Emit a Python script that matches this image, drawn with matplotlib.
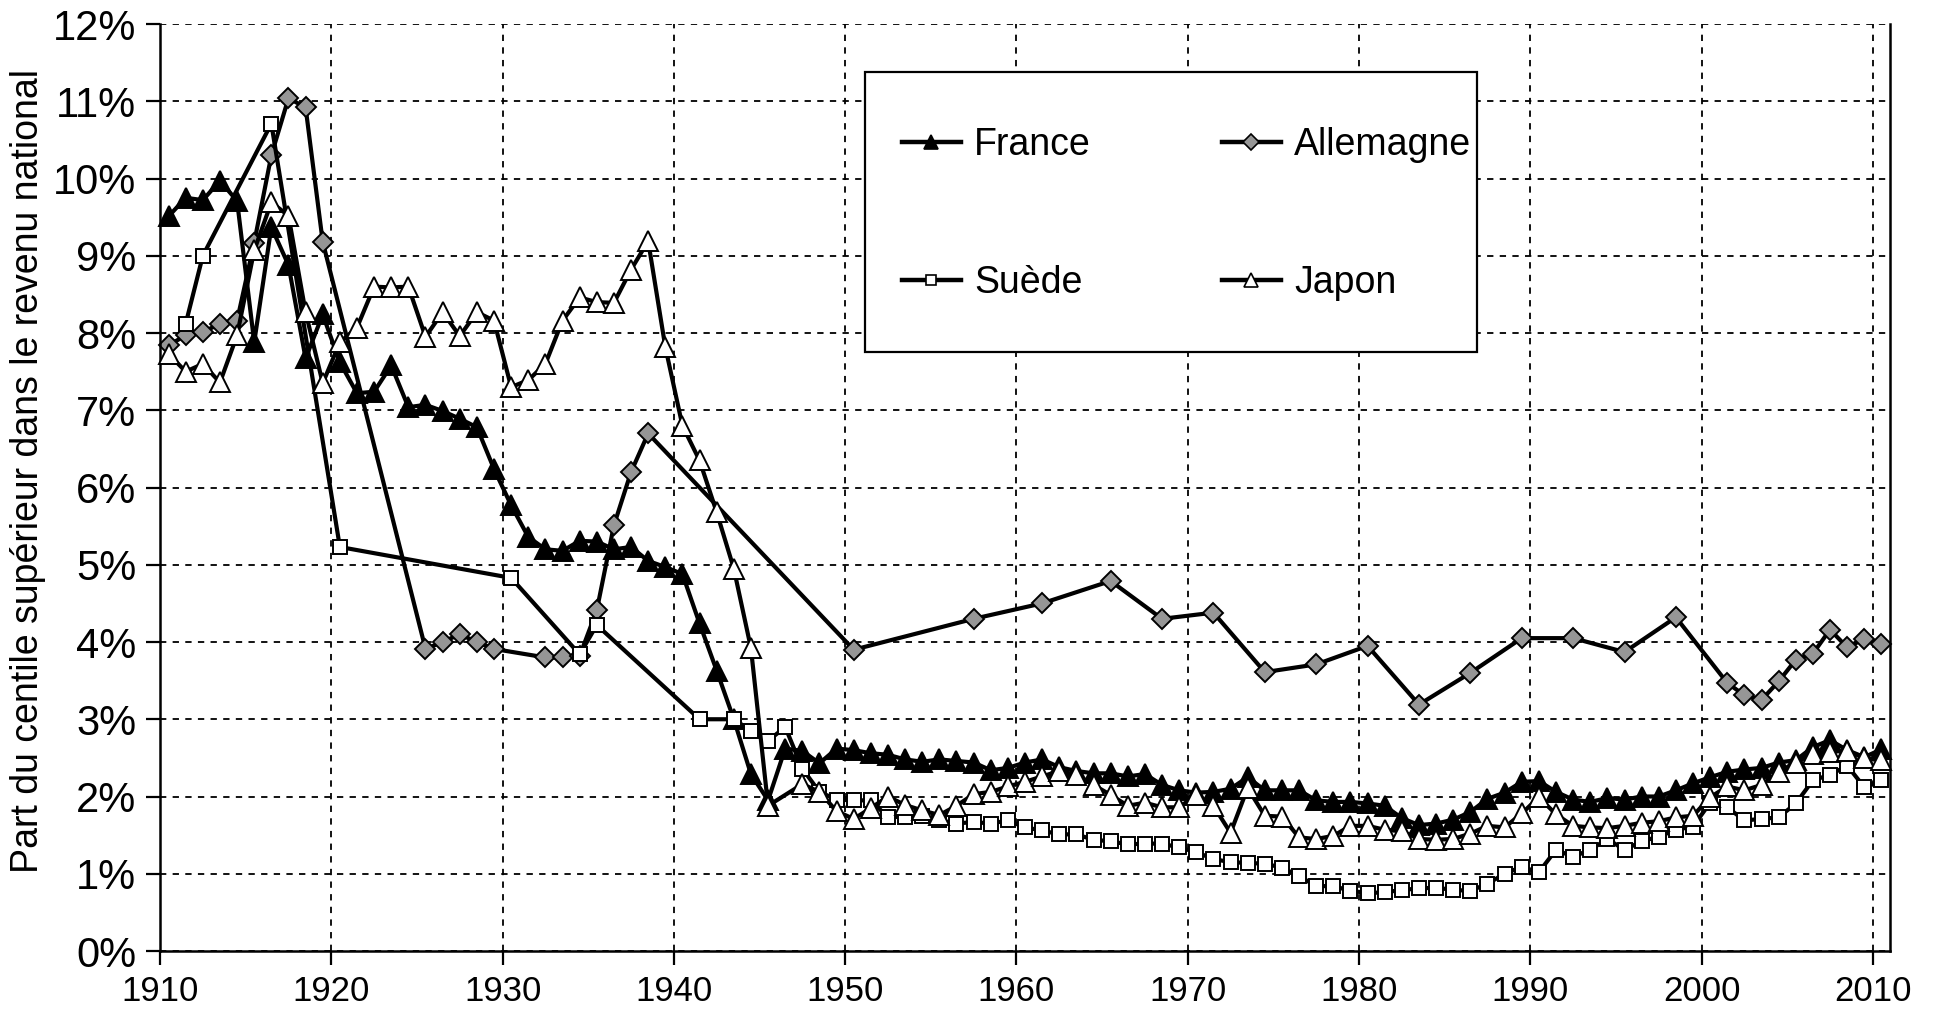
import numpy as np
import matplotlib
matplotlib.use('Agg')
import matplotlib.pyplot as plt
from matplotlib.patches import Rectangle
from matplotlib.lines import Line2D

# share of top 1% in national income (%)
france_years = list(range(1910, 2011))
france = [9.51, 9.75, 9.72, 9.97, 9.71, 7.88, 9.37, 8.88, 7.67, 8.24,
          7.62, 7.22, 7.24, 7.58, 7.04, 7.07, 6.99, 6.89, 6.78, 6.24,
          5.77, 5.36, 5.20, 5.18, 5.31, 5.30, 5.20, 5.23, 5.05, 4.97,
          4.88, 4.24, 3.63, 3.00, 2.29, 1.95, 2.62, 2.59, 2.43, 2.62,
          2.60, 2.56, 2.54, 2.48, 2.45, 2.48, 2.46, 2.44, 2.34, 2.37,
          2.44, 2.48, 2.38, 2.33, 2.30, 2.30, 2.26, 2.29, 2.15, 2.08,
          2.05, 2.06, 2.10, 2.25, 2.08, 2.08, 2.08, 1.95, 1.93, 1.93,
          1.91, 1.88, 1.72, 1.63, 1.65, 1.70, 1.80, 1.97, 2.05, 2.19,
          2.20, 2.06, 1.96, 1.93, 1.98, 1.96, 2.00, 2.00, 2.08, 2.17,
          2.25, 2.32, 2.35, 2.37, 2.44, 2.47, 2.64, 2.73, 2.60, 2.51,
          2.61]

germany_years = (list(range(1910, 1920)) + list(range(1925, 1930)) + list(range(1932, 1939))
                 + [1950, 1957, 1961, 1965, 1968, 1971, 1974, 1977, 1980, 1983,
                    1986, 1989, 1992, 1995, 1998] + list(range(2001, 2011)))
germany = [7.84, 7.97, 8.01, 8.12, 8.16, 9.17, 10.30, 11.04, 10.92, 9.18,
           3.91, 4.00, 4.10, 4.00, 3.91,
           3.80, 3.80, 3.82, 4.41, 5.51, 6.20, 6.70,
           3.90, 4.30, 4.50, 4.79, 4.30, 4.38, 3.61, 3.71, 3.95, 3.19,
           3.60, 4.05, 4.05, 3.87, 4.32,
           3.47, 3.31, 3.25, 3.49, 3.77, 3.85, 4.16, 3.93, 4.04, 3.98]

sweden_years = [1911, 1912, 1916, 1920, 1930, 1934, 1935, 1941] + list(range(1943, 2011))
sweden = [8.12, 9.00, 10.71, 5.23, 4.83, 3.84, 4.22, 3.00,
          3.00, 2.85, 2.72, 2.90, 2.36, 2.06, 1.96,
          1.95, 1.95, 1.73, 1.74, 1.75, 1.69, 1.65, 1.67, 1.65, 1.69,
          1.60, 1.56, 1.51, 1.51, 1.44, 1.42, 1.38, 1.39, 1.39, 1.34,
          1.28, 1.19, 1.15, 1.14, 1.13, 1.08, 0.97, 0.84, 0.84, 0.78,
          0.75, 0.76, 0.79, 0.81, 0.82, 0.79, 0.78, 0.87, 1.00, 1.09,
          1.02, 1.31, 1.22, 1.31, 1.45, 1.31, 1.42, 1.48, 1.57, 1.61,
          1.92, 1.86, 1.69, 1.71, 1.73, 1.91, 2.21, 2.28, 2.40, 2.12,
          2.21]

japan_years = list(range(1910, 1946)) + list(range(1947, 2011))
japan = [7.73, 7.50, 7.60, 7.36, 7.97, 9.07, 9.69, 9.52, 8.27, 7.35,
         7.88, 8.07, 8.60, 8.59, 8.60, 7.95, 8.27, 7.96, 8.27, 8.16,
         7.30, 7.39, 7.60, 8.16, 8.46, 8.40, 8.39, 8.82, 9.19, 7.82,
         6.80, 6.35, 5.68, 4.95, 3.92, 1.88,
         2.16, 2.06, 1.81,
         1.71, 1.85, 2.00, 1.89, 1.82, 1.76, 1.88, 2.03, 2.06, 2.13,
         2.19, 2.26, 2.33, 2.28, 2.15, 2.02, 1.88, 1.92, 1.86, 1.86,
         2.02, 1.88, 1.53, 2.11, 1.75, 1.74, 1.47, 1.45, 1.49, 1.62,
         1.62, 1.57, 1.55, 1.45, 1.44, 1.45, 1.52, 1.62, 1.60, 1.78,
         1.99, 1.77, 1.62, 1.60, 1.59, 1.62, 1.66, 1.68, 1.73, 1.75,
         1.99, 2.13, 2.08, 2.15, 2.32, 2.44, 2.55, 2.58, 2.59, 2.50,
         2.47]

x_ticks = list(range(1910, 2011, 10))
y_ticks = list(range(0, 13))

FONT = ['Liberation Sans', 'DejaVu Sans']

W, H = 1945, 1022
fig = plt.figure(figsize=(W / 100, H / 100), dpi=100)
ax = fig.add_axes([160 / W, 1 - 951 / H, (1890 - 160) / W, (951 - 24) / H])

styles = {
    'France': dict(marker='^', ms=14, mfc='black', mec='black'),
    'Allemagne': dict(marker='D', ms=10.5, mfc='#969696', mec='black'),
    'Suède': dict(marker='s', ms=10.5, mfc='white', mec='black'),
    'Japon': dict(marker='^', ms=14, mfc='white', mec='black'),
}
series = [('Allemagne', germany_years, germany, 2),
          ('France', france_years, france, 3),
          ('Suède', sweden_years, sweden, 4),
          ('Japon', japan_years, japan, 5)]

# yearly values are plotted at mid-year
for name, yrs, vals, z in series:
    ax.plot(np.array(yrs) + 0.5, vals, color='black', lw=3.0, mew=1.4,
            zorder=z, clip_on=False, **styles[name])

ax.set_xlim(1910, 2011)
ax.set_ylim(0, 12)
ax.set_xticks(x_ticks)
ax.set_xticklabels([str(t) for t in x_ticks], family=FONT, fontsize=25)
ax.set_yticks(y_ticks)
ax.set_yticklabels([f'{t}%' for t in y_ticks], family=FONT, fontsize=30)
ax.tick_params(axis='both', direction='out', length=10, width=1.6, color='black')
ax.tick_params(axis='x', pad=7)
ax.tick_params(axis='y', pad=7)

ax.grid(True, color='black', lw=1.3, linestyle=(0, (3.5, 3.5)))
ax.set_axisbelow(True)
ax.spines['top'].set_visible(False)
for s in ('left', 'bottom', 'right'):
    ax.spines[s].set_linewidth(1.8)

fig.text(28 / W, 1 - 471 / H, 'Part du centile supérieur dans le revenu national',
         rotation=90, ha='center', va='center', fontsize=27, family=FONT)

# legend box
ax.add_patch(Rectangle((865 / W, 1 - 352 / H), (1477 - 865) / W, (352 - 72) / H,
                       transform=fig.transFigure, facecolor='white', edgecolor='black',
                       lw=1.6, zorder=6, clip_on=False))
handles = {name: Line2D([], [], color='black', lw=3.2, mew=1.2,
                        **dict(styles[name], ms=styles[name]['ms'] * 0.75))
           for name in styles}
order = ['France', 'Suède', 'Allemagne', 'Japon']
leg = ax.legend([handles[n] for n in order], order, ncol=2, frameon=False,
                loc='upper left', bbox_to_anchor=(902 / W, 1 - 127 / H),
                bbox_transform=fig.transFigure, borderpad=0, borderaxespad=0,
                handlelength=1.57, handletextpad=0.35, labelspacing=2.72, columnspacing=3.5,
                prop={'family': FONT, 'size': 27})
leg.set_zorder(7)

fig.savefig('out.png', dpi=100)
